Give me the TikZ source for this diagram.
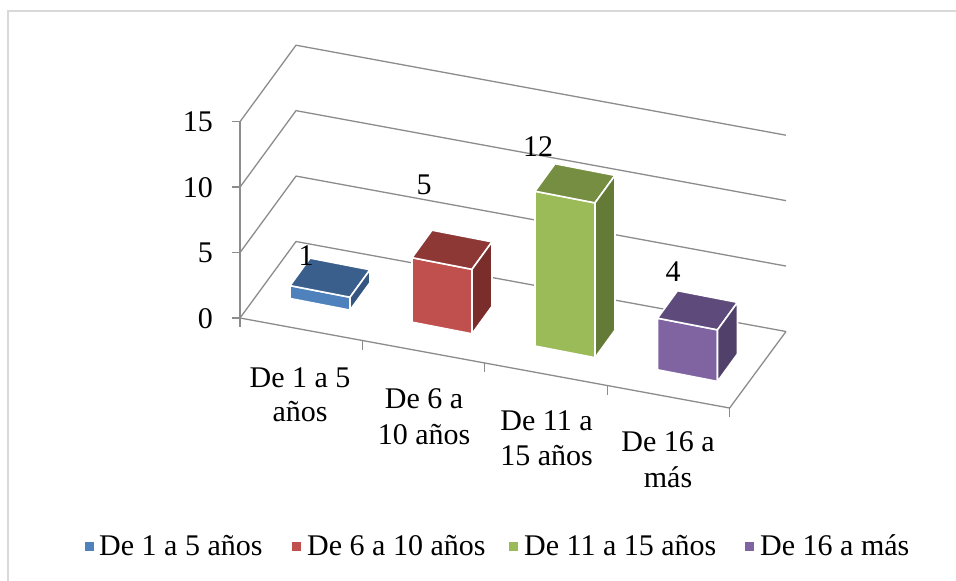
\documentclass[tikz,border=0pt]{standalone}
\usepackage{fontspec}
\setmainfont{Liberation Serif}
\usetikzlibrary{calc}
\definecolor{gridc}{HTML}{8C8C8C}
\definecolor{framec}{HTML}{D9D9D9}
\definecolor{bluef}{HTML}{4F81BD}\definecolor{bluet}{HTML}{3B5F8C}\definecolor{blues}{HTML}{345681}
\definecolor{redf}{HTML}{C0504D}\definecolor{redt}{HTML}{8E3836}\definecolor{reds}{HTML}{7A2E2C}
\definecolor{greenf}{HTML}{9BBB59}\definecolor{greent}{HTML}{758E41}\definecolor{greens}{HTML}{647B37}
\definecolor{purplef}{HTML}{8064A2}\definecolor{purplet}{HTML}{5F4B7B}\definecolor{purples}{HTML}{50406A}
\tikzset{
  grid line/.style={draw=gridc, line width=1.3pt},
  barline/.style={draw=white, line width=1.6pt, line join=round},
  lbl/.style={font=\fontsize{30}{34}\selectfont, inner sep=0pt},
  legsq/.style={minimum size=9pt, inner sep=0pt, draw=none},
}
\newcommand\cubebar[6]{%
  \pgfmathsetmacro\xa{#2}%
  \pgfmathsetmacro\ya{298.5+0.194*(#2-290)}%
  \pgfmathsetmacro\xb{#2+60}%
  \pgfmathsetmacro\yb{\ya+0.194*60}%
  \pgfmathsetmacro\hh{12.9*#3}%
  \coordinate (#1-bl) at (\xa,\ya);
  \coordinate (#1-br) at (\xb,\yb);
  \coordinate (#1-tl) at (\xa,{\ya-\hh});
  \coordinate (#1-tr) at (\xb,{\yb-\hh});
  \filldraw[fill=#4,barline] (#1-bl) -- (#1-br) -- (#1-tr) -- (#1-tl) -- cycle;
  \filldraw[fill=#5,barline] (#1-tl) -- (#1-tr) -- ($(#1-tr)+(20,-27.5)$) -- ($(#1-tl)+(20,-27.5)$) -- cycle;
  \filldraw[fill=#6,barline] (#1-br) -- ($(#1-br)+(20,-27.5)$) -- ($(#1-tr)+(20,-27.5)$) -- (#1-tr) -- cycle;
}
\begin{document}
\begin{tikzpicture}[x=1pt,y=-1pt]
\useasboundingbox (0,0) rectangle (956,581);
% frame
\draw[framec, line width=2pt] (7,11) -- (956,11);
\draw[framec, line width=2pt] (8,11) -- (8,581);
% walls gridlines
\foreach \k in {0,1,2,3}{
  \pgfmathsetmacro\yk{318-65.43*\k}
  \coordinate (s\k) at (240,\yk);
  \coordinate (b\k) at (296,{\yk-76.5});
  \coordinate (e\k) at (786,{\yk+13.5});
  \draw[grid line, line join=round] (s\k) -- (b\k) -- (e\k);
}
% floor
\coordinate (fl) at (240,318);
\coordinate (fr) at (729.6,408);
\draw[grid line] (e0) -- (fr) -- (fl);
% y axis
\draw[grid line] (s0) -- (s3);
\foreach \k in {0,1,2,3}{ \draw[grid line] (s\k) -- ++(-8,0); }
% category ticks
\foreach \j in {0,1,2,3,4}{
  \coordinate (t\j) at ($(fl)!\j/4!(fr)$);
  \draw[grid line] (t\j) -- ++(0,9);
}
% y labels
\node[lbl, anchor=base east] (y0) at (213,328) {0};
\node[lbl, anchor=base east] (y5) at (213,262.6) {5};
\node[lbl, anchor=base east] (y10) at (213,197.1) {10};
\node[lbl, anchor=base east] (y15) at (213,131.7) {15};
% bars
\cubebar{b1}{290}{1}{bluef}{bluet}{blues}
\cubebar{b2}{412}{5}{redf}{redt}{reds}
\cubebar{b3}{535}{12}{greenf}{greent}{greens}
\cubebar{b4}{657.5}{4}{purplef}{purplet}{purples}
% value labels
\node[lbl] (v1) at (306,256) {1};
\node[lbl] (v2) at (424,185) {5};
\node[lbl] (v3) at (538,147) {12};
\node[lbl] (v4) at (673,272) {4};
% category labels
\node[lbl, anchor=base] (c1a) at (300,387) {De 1 a 5};
\node[lbl, anchor=base] (c1b) at (300,421.5) {años};
\node[lbl, anchor=base] (c2a) at (424,408.5) {De 6 a};
\node[lbl, anchor=base] (c2b) at (424,444) {10 años};
\node[lbl, anchor=base] (c3a) at (546.5,430) {De 11 a};
\node[lbl, anchor=base] (c3b) at (546.5,465.5) {15 años};
\node[lbl, anchor=base] (c4a) at (668,451.5) {De 16 a};
\node[lbl, anchor=base] (c4b) at (668,487.5) {más};
% legend
\node[legsq, fill=bluef] (l1) at (89,546) {};
\node[lbl, anchor=base west] (lt1) at (99,555.5) {De 1 a 5 años};
\node[legsq, fill=redf] (l2) at (296,546) {};
\node[lbl, anchor=base west] (lt2) at (307,555.5) {De 6 a 10 años};
\node[legsq, fill=greenf] (l3) at (513,546) {};
\node[lbl, anchor=base west] (lt3) at (524,555.5) {De 11 a 15 años};
\node[legsq, fill=purplef] (l4) at (749,546) {};
\node[lbl, anchor=base west] (lt4) at (760,555.5) {De 16 a más};
\end{tikzpicture}
\end{document}
